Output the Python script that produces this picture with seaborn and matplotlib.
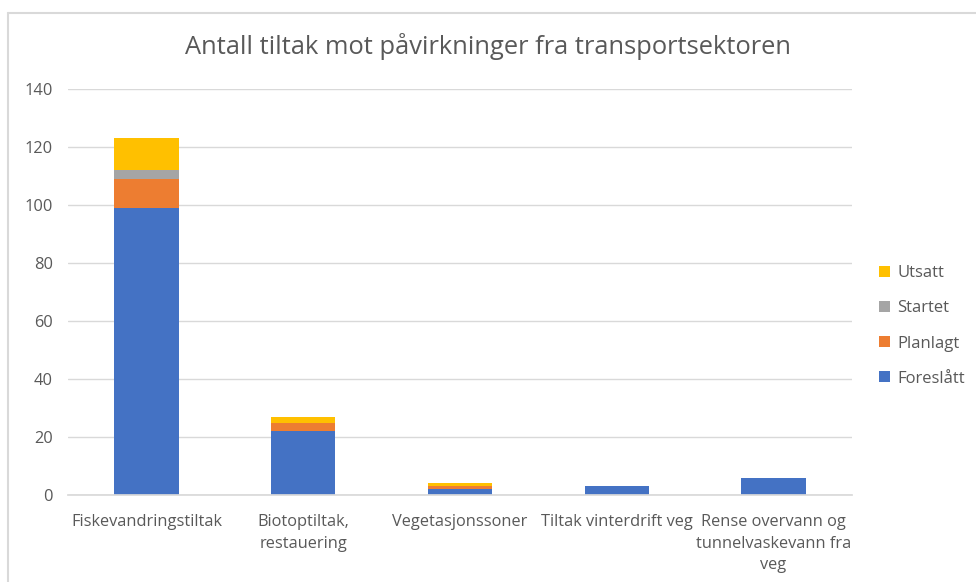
import matplotlib
matplotlib.use("Agg")
import matplotlib.pyplot as plt
from matplotlib.lines import Line2D
from matplotlib.patches import Patch
import numpy as np
import seaborn as sns

kategorier = ["Fiskevandringstiltak", "Biotoptiltak,\nrestauering", "Vegetasjonssoner",
              "Tiltak vinterdrift veg", "Rense overvann og\ntunnelvaskevann fra\nveg"]
foreslatt = [99, 22, 2, 3, 6]
planlagt = [10, 3, 1, 0, 0]
startet = [3, 0, 0, 0, 0]
utsatt = [11, 2, 1, 0, 0]

serier = ["Foreslått", "Planlagt", "Startet", "Utsatt"]
farger = ["#4472C4", "#ED7D31", "#A5A5A5", "#FFC000"]
verdier = [foreslatt, planlagt, startet, utsatt]

sns.set_theme(style="white")
plt.rcParams["font.family"] = ["Open Sans", "DejaVu Sans"]
tekst = "#595959"

fig = plt.figure(figsize=(9.76, 5.82), dpi=100)
ax = fig.add_axes([68 / 976, 87 / 582, (852 - 68) / 976, (495 - 89) / 582])

# stablede søyler: tegn kumulative summer fra toppen og nedover
kum = np.cumsum(np.array(verdier), axis=0)
for i in range(len(serier) - 1, -1, -1):
    sns.barplot(x=kategorier, y=kum[i], color=farger[i], width=0.41,
                saturation=1, ax=ax, zorder=2, linewidth=0)

ax.set_ylim(0, 140)
ax.set_yticks(range(0, 141, 20))
ax.yaxis.grid(True, color="#D9D9D9", linewidth=1, zorder=0)
ax.xaxis.grid(False)
for s in ["top", "right", "left"]:
    ax.spines[s].set_visible(False)
ax.spines["bottom"].set_color("#D9D9D9")
ax.tick_params(axis="both", length=0, colors=tekst, labelsize=11.8)
ax.tick_params(axis="y", pad=11)
ax.tick_params(axis="x", pad=14)
for lbl in ax.get_xticklabels():
    lbl.set_linespacing(1.45)
ax.set_xlabel("")
ax.set_ylabel("")

fig.text(0.5, 1 - 47 / 582, "Antall tiltak mot påvirkninger fra transportsektoren",
         ha="center", va="center", fontsize=18.4, color=tekst)

handles = [Patch(facecolor=farger[i], edgecolor="none") for i in range(3, -1, -1)]
labels = [serier[i] for i in range(3, -1, -1)]
fig.legend(handles, labels, loc="center left", bbox_to_anchor=(864 / 976, 1 - 326 / 582),
           frameon=False, fontsize=12, labelcolor=tekst, handlelength=0.65,
           handleheight=0.65, handletextpad=0.45, labelspacing=1.15)

# ramme rundt diagrammet
fig.add_artist(Line2D([8 / 976, 1], [1 - 13 / 582, 1 - 13 / 582], color="#D9D9D9", lw=1.5))
fig.add_artist(Line2D([8 / 976, 8 / 976], [0, 1 - 13 / 582], color="#D9D9D9", lw=1.5))

fig.savefig("out.png", dpi=100)
